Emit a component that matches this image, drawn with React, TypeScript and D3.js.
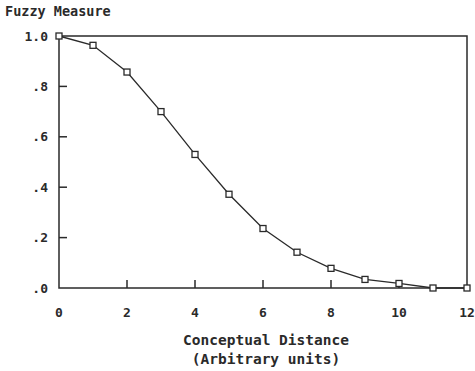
import React, { useEffect, useRef } from 'react';
import * as d3 from 'd3';

// Values
const distance = [0, 1, 2, 3, 4, 5, 6, 7, 8, 9, 10, 11, 12];
const measure = [1.0, 0.963, 0.857, 0.7, 0.53, 0.372, 0.236, 0.142, 0.078, 0.034, 0.018, 0.0, 0.0];
const xTicks = [0, 2, 4, 6, 8, 10, 12];
const yTicks = [0, 0.2, 0.4, 0.6, 0.8, 1.0];
const yTickLabels = ['.0', '.2', '.4', '.6', '.8', '1.0'];

export default function App() {
  const svgRef = useRef<SVGSVGElement>(null);

  useEffect(() => {
    if (!svgRef.current) return;
    const width = 475;
    const height = 371;
    const margin = { top: 36, right: 8, bottom: 83, left: 59 };
    const innerW = width - margin.left - margin.right;
    const innerH = height - margin.top - margin.bottom;
    const ink = '#2a2a2a';
    const font = '"DejaVu Sans Mono", "Liberation Mono", monospace';

    d3.select(svgRef.current).selectAll('*').remove();

    const svg = d3.select(svgRef.current)
      .attr('width', width)
      .attr('height', height)
      .style('font-family', font)
      .style('font-weight', 'bold');

    const x = d3.scaleLinear().domain([0, 12]).range([0, innerW]);
    const y = d3.scaleLinear().domain([0, 1]).range([innerH, 0]);

    svg.append('text')
      .attr('x', 5)
      .attr('y', 16)
      .attr('font-size', 13.5)
      .attr('fill', ink)
      .text('Fuzzy Measure');

    const g = svg.append('g')
      .attr('transform', `translate(${margin.left},${margin.top})`);

    // frame
    g.append('rect')
      .attr('width', innerW)
      .attr('height', innerH)
      .attr('fill', 'none')
      .attr('stroke', ink)
      .attr('stroke-width', 1.5);

    // y ticks (inward) + labels
    g.selectAll('.ytick')
      .data(yTicks.slice(1, -1))
      .enter()
      .append('line')
      .attr('x1', 0)
      .attr('x2', 8)
      .attr('y1', d => y(d))
      .attr('y2', d => y(d))
      .attr('stroke', ink)
      .attr('stroke-width', 1.5);

    g.selectAll('.ylab')
      .data(yTicks)
      .enter()
      .append('text')
      .attr('x', -11)
      .attr('y', d => y(d))
      .attr('dy', '0.36em')
      .attr('text-anchor', 'end')
      .attr('font-size', 13)
      .attr('fill', ink)
      .text((d, i) => yTickLabels[i]);

    // x ticks (inward) + labels
    g.selectAll('.xtick')
      .data(xTicks.slice(1, -1))
      .enter()
      .append('line')
      .attr('x1', d => x(d))
      .attr('x2', d => x(d))
      .attr('y1', innerH)
      .attr('y2', innerH - 8)
      .attr('stroke', ink)
      .attr('stroke-width', 1.5);

    g.selectAll('.xlab')
      .data(xTicks)
      .enter()
      .append('text')
      .attr('x', d => x(d))
      .attr('y', innerH + 29)
      .attr('text-anchor', 'middle')
      .attr('font-size', 13)
      .attr('fill', ink)
      .text(d => String(d));

    // axis title
    g.append('text')
      .attr('x', innerW / 2 + 3)
      .attr('y', innerH + 57)
      .attr('text-anchor', 'middle')
      .attr('font-size', 14.5)
      .attr('fill', ink)
      .text('Conceptual Distance');

    g.append('text')
      .attr('x', innerW / 2 + 3)
      .attr('y', innerH + 76)
      .attr('text-anchor', 'middle')
      .attr('font-size', 14.5)
      .attr('fill', ink)
      .text('(Arbitrary units)');

    // curve
    const points = distance.map((d, i) => [d, measure[i]] as [number, number]);
    const line = d3.line<[number, number]>()
      .x(d => x(d[0]))
      .y(d => y(d[1]));

    g.append('path')
      .datum(points)
      .attr('d', line)
      .attr('fill', 'none')
      .attr('stroke', ink)
      .attr('stroke-width', 1.3);

    g.selectAll('.marker')
      .data(points)
      .enter()
      .append('rect')
      .attr('x', d => x(d[0]) - 3)
      .attr('y', d => y(d[1]) - 3)
      .attr('width', 6)
      .attr('height', 6)
      .attr('fill', 'white')
      .attr('stroke', ink)
      .attr('stroke-width', 1.3);
  }, []);

  return <svg ref={svgRef} style={{ position: 'absolute', left: 0, top: 0 }}></svg>;
}
